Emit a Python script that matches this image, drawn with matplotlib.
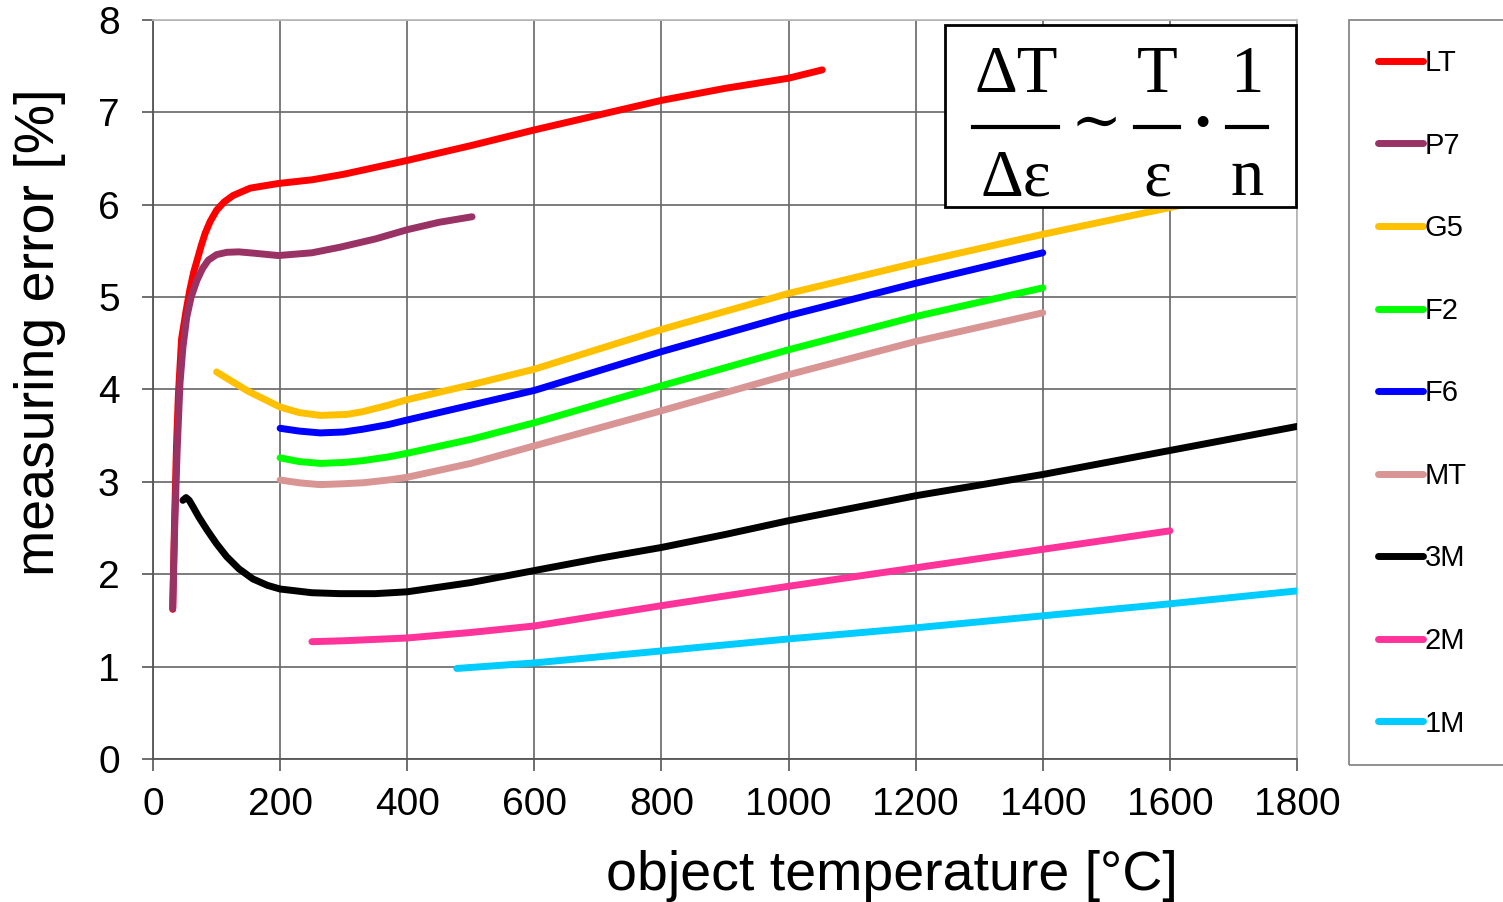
import matplotlib.pyplot as plt
from matplotlib.patches import Rectangle
from matplotlib.lines import Line2D

# curve data: temperature [°C] -> measuring error [%]
lt_t = [31, 34, 37, 40, 45, 52, 58, 64, 69, 76, 82, 90, 100, 112, 126, 153, 197, 250, 300,
        400, 500, 600, 700, 800, 900, 1000, 1053]
lt_e = [1.62, 2.6, 3.4, 3.95, 4.55, 4.85, 5.08, 5.27, 5.39, 5.56, 5.69, 5.82, 5.94, 6.03,
        6.1, 6.18, 6.23, 6.27, 6.33, 6.48, 6.64, 6.81, 6.97, 7.13, 7.26, 7.37, 7.46]

p7_t = [31, 33, 34.6, 38, 42.5, 47, 53, 60, 69, 78, 87, 100, 116, 135, 160, 197, 250, 294,
        350, 400, 450, 502]
p7_e = [1.63, 2.2, 2.62, 3.34, 4.07, 4.45, 4.78, 5.0, 5.18, 5.31, 5.4, 5.46, 5.485, 5.49,
        5.475, 5.45, 5.48, 5.54, 5.63, 5.73, 5.81, 5.87]

g5_t = [100, 150, 200, 230, 263, 305, 330, 370, 400, 500, 600, 800, 1000, 1200, 1400, 1600,
        1800]
g5_e = [4.19, 3.98, 3.81, 3.75, 3.72, 3.73, 3.76, 3.83, 3.89, 4.05, 4.22, 4.65, 5.04, 5.37,
        5.68, 5.97, 6.25]

f2_t = [200, 230, 263, 300, 330, 370, 400, 500, 600, 800, 1000, 1200, 1400]
f2_e = [3.26, 3.22, 3.2, 3.21, 3.23, 3.27, 3.31, 3.46, 3.64, 4.04, 4.43, 4.79, 5.1]

f6_t = [200, 230, 263, 300, 330, 370, 400, 500, 600, 800, 1000, 1200, 1400]
f6_e = [3.58, 3.55, 3.53, 3.54, 3.57, 3.62, 3.67, 3.83, 3.99, 4.41, 4.8, 5.15, 5.48]

mt_t = [200, 230, 263, 300, 330, 370, 400, 500, 600, 800, 1000, 1200, 1400]
mt_e = [3.02, 2.99, 2.97, 2.98, 2.99, 3.02, 3.05, 3.2, 3.39, 3.77, 4.16, 4.52, 4.83]

m3_t = [47, 52, 57, 63, 72, 85, 100, 116, 135, 157, 180, 200, 250, 294, 350, 400, 500, 600,
        700, 800, 900, 1000, 1200, 1400, 1600, 1800]
m3_e = [2.8, 2.83, 2.8, 2.73, 2.62, 2.48, 2.33, 2.19, 2.06, 1.95, 1.88, 1.84, 1.8, 1.79,
        1.79, 1.81, 1.91, 2.04, 2.17, 2.29, 2.43, 2.58, 2.85, 3.08, 3.34, 3.6]

m2_t = [250, 300, 400, 500, 600, 800, 1000, 1200, 1400, 1600]
m2_e = [1.27, 1.28, 1.31, 1.37, 1.44, 1.66, 1.87, 2.07, 2.27, 2.47]

m1_t = [478, 600, 800, 1000, 1200, 1400, 1600, 1800]
m1_e = [0.98, 1.04, 1.17, 1.3, 1.42, 1.55, 1.68, 1.82]

labels = ['LT', 'P7', 'G5', 'F2', 'F6', 'MT', '3M', '2M', '1M']
colors = ['#ff0000', '#993366', '#ffc000', '#00ff00', '#0000ff', '#d99594', '#000000',
          '#ff3399', '#00ccff']
series = [(lt_t, lt_e), (p7_t, p7_e), (g5_t, g5_e), (f2_t, f2_e), (f6_t, f6_e),
          (mt_t, mt_e), (m3_t, m3_e), (m2_t, m2_e), (m1_t, m1_e)]

W, H = 1503, 902
fig = plt.figure(figsize=(15.03, 9.02), dpi=100)
ax = fig.add_axes([153 / W, 1 - 759 / H, 1144 / W, 739 / H])

lw = 5.0
for (t, e), c in zip(series, colors):
    ax.plot(t, e, color=c, lw=lw, solid_capstyle='round', solid_joinstyle='round', zorder=3)

ax.set_xlim(0, 1800)
ax.set_ylim(0, 8)
ax.set_xticks(range(0, 1801, 200))
ax.set_yticks(range(0, 9))
ax.grid(True, color='#666666', lw=1.2, zorder=1)
ax.set_axisbelow(True)
for s in ['left', 'bottom']:
    ax.spines[s].set_color('#555555')
    ax.spines[s].set_linewidth(1.3)
for s in ['top', 'right']:
    ax.spines[s].set_color('#bbbbbb')
    ax.spines[s].set_linewidth(1.3)

ax.tick_params(axis='x', length=8.5, width=1.2, color='#555555', labelsize=28, pad=12)
ax.tick_params(axis='y', length=8, width=1.2, color='#555555', labelsize=28, pad=16)
for lab in ax.get_xticklabels() + ax.get_yticklabels():
    lab.set_fontfamily('Liberation Sans')

ax.set_xlabel('object temperature [°C]', fontsize=40, family='Liberation Sans', va='center')
ax.xaxis.set_label_coords(739 / 1144, -117 / 739)
ax.set_ylabel('measuring error [%]', fontsize=40, family='Liberation Sans', va='center')
ax.yaxis.set_label_coords(-113 / 1144, 427 / 739)

# legend on the right; its frame runs off the right edge of the picture
handles = [Line2D([], [], color=c, lw=lw, solid_capstyle='round') for c in colors]
fig.legend(handles, labels, loc='upper left', bbox_to_anchor=(1349 / W, 1 - 20 / H),
           prop={'family': 'Liberation Sans', 'size': 21}, frameon=False,
           handlelength=1.55, handletextpad=0.05, labelspacing=1.87, borderpad=1.0,
           borderaxespad=0)
fig.patches.append(Rectangle((1349 / W, 1 - 765 / H), 200 / W, (765 - 20) / H,
                             transform=fig.transFigure, facecolor='none', edgecolor='#888888',
                             lw=1.3, zorder=4))


# formula box
def fx(px):
    return px / W


def fy(py):
    return 1 - py / H


fig.patches.append(Rectangle((fx(945), fy(207)), (1296 - 945) / W, (207 - 25) / H,
                             transform=fig.transFigure, facecolor='white', edgecolor='black',
                             lw=2, zorder=5))
serif = ['Liberation Serif', 'DejaVu Serif']
fs = 48
for txt, x, y in [('ΔT', 1016, 92), ('Δε', 1016, 195), ('T', 1157, 92), ('ε', 1157, 195),
                  ('1', 1247, 92), ('n', 1247, 195)]:
    fig.text(fx(x), fy(y), txt, family=serif, fontsize=fs, ha='center', va='baseline', zorder=6)
for x0, x1 in [(973, 1058), (1135, 1179), (1227, 1267)]:
    fig.add_artist(Line2D([fx(x0), fx(x1)], [fy(127), fy(127)], color='black', lw=3,
                          transform=fig.transFigure, zorder=6))
fig.text(fx(1096), fy(124), '∼', family=['DejaVu Serif'], fontsize=44, ha='center',
         va='center', zorder=6)
fig.text(fx(1202), fy(127), '·', family=serif, fontsize=fs, ha='center', va='center',
         fontweight='bold', zorder=6)

fig.savefig('out.png', dpi=100)
